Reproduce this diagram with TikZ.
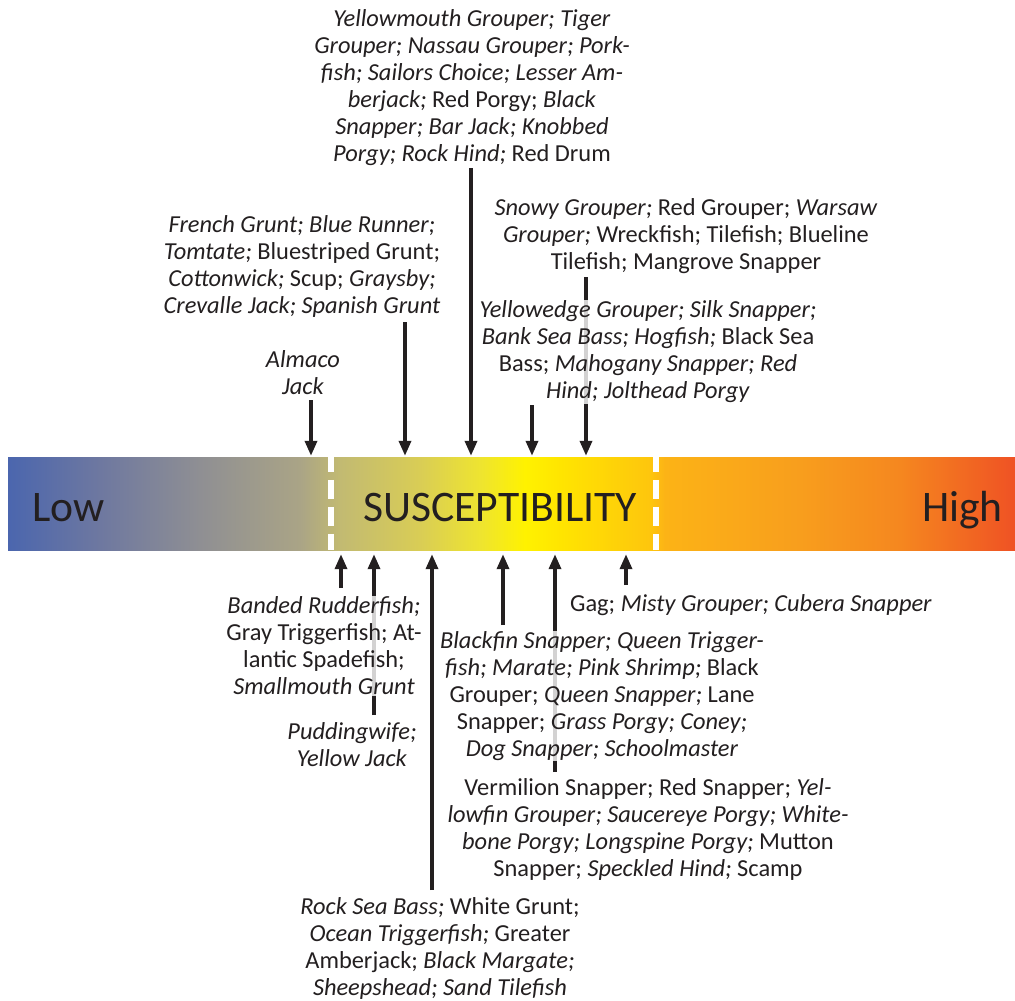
\documentclass[tikz,border=0pt]{standalone}
\usepackage{fontspec}
\setmainfont{Carlito}
\usetikzlibrary{arrows.meta}
\definecolor{ink}{HTML}{231F20}
\definecolor{sA}{HTML}{4B66AE}
\definecolor{sB}{HTML}{6E78A0}
\definecolor{sC}{HTML}{8F8F93}
\definecolor{sD}{HTML}{AAA486}
\definecolor{sE}{HTML}{C2BA72}
\definecolor{sF}{HTML}{D9CD55}
\definecolor{sG}{HTML}{EEE430}
\definecolor{sH}{HTML}{FFF200}
\definecolor{sI}{HTML}{FFE500}
\definecolor{sJ}{HTML}{FEC60D}
\definecolor{sK}{HTML}{FCB316}
\definecolor{sL}{HTML}{F89E1D}
\definecolor{sM}{HTML}{F5871F}
\definecolor{sN}{HTML}{EF5224}
\pgfdeclarehorizontalshading{susc}{100bp}{color(0bp)=(sA); color(25bp)=(sA);
  color(29.57bp)=(sB); color(34.53bp)=(sC); color(39.5bp)=(sD);
  color(41.48bp)=(sE); color(45.46bp)=(sF); color(48.44bp)=(sG);
  color(50.67bp)=(sH); color(52.41bp)=(sI); color(56.88bp)=(sJ);
  color(57.62bp)=(sK); color(64.32bp)=(sL); color(69.29bp)=(sM);
  color(75bp)=(sN); color(100bp)=(sN)}

\begin{document}
\begin{tikzpicture}[x=1pt,y=-1pt,
    lbl/.style={font=\fontsize{24.4}{27}\selectfont,align=center,text=ink,
      fill=white,fill opacity=.8,text opacity=1,inner sep=0.5pt},
    big/.style={font=\fontsize{43.6}{52}\selectfont,text=ink,inner sep=0pt},
    arr/.style={-{Triangle[length=15pt,width=12pt]},line width=3.5pt,ink},
    cut/.style={draw=white,line width=6pt,dash pattern=on 19pt off 8pt,dash phase=4pt}]
  \useasboundingbox (0,0) rectangle (1015,1001);
  % the scale
  \node[shade,shading=susc,minimum width=1007pt,minimum height=93pt,inner sep=0pt] (bar) at (511.5,503.5) {};
  \coordinate (d1) at (331,0);
  \coordinate (d2) at (656,0);
  \draw[cut] (bar.north -| d1) -- (bar.south -| d1);
  \draw[cut] (bar.north -| d2) -- (bar.south -| d2);
  \node[big,anchor=base west] (low) at (32,521) {Low};
  \node[big,anchor=base] (susc) at (500,521) {SUSCEPTIBILITY};
  \node[big,anchor=base east] (high) at (1003,521) {High};
  % arrow tails
  \coordinate (t1) at (311,400);
  \coordinate (t2) at (405,322);
  \coordinate (t3) at (471,168);
  \coordinate (t4) at (532,405);
  \coordinate (t5) at (586,277);
  \coordinate (b1) at (341,588);
  \coordinate (b2) at (374,715);
  \coordinate (b3) at (432,890);
  \coordinate (b4) at (503,625);
  \coordinate (b5) at (555,772);
  \coordinate (b6) at (626,585);
  \path[arr,shorten >=1pt]
    (t1) edge (t1 |- bar.north)
    (t2) edge (t2 |- bar.north)
    (t3) edge (t3 |- bar.north)
    (t4) edge (t4 |- bar.north)
    (t5) edge (t5 |- bar.north);
  \path[arr,shorten >=4pt]
    (b1) edge (b1 |- bar.south)
    (b2) edge (b2 |- bar.south)
    (b3) edge (b3 |- bar.south)
    (b4) edge (b4 |- bar.south)
    (b5) edge (b5 |- bar.south)
    (b6) edge (b6 |- bar.south);
  % species above
  \node[lbl] (ymouth) at (472,88) {\textit{Yellowmouth Grouper; Tiger}\\
    \textit{Grouper; Nassau Grouper; Pork-}\\
    \textit{fish; Sailors Choice; Lesser Am-}\\
    \textit{berjack;} Red Porgy; \textit{Black}\\
    \textit{Snapper; Bar Jack; Knobbed}\\
    \textit{Porgy; Rock Hind;} Red Drum};
  \node[lbl] (french) at (302,266) {\textit{French Grunt; Blue Runner;}\\
    \textit{Tomtate;} Bluestriped Grunt;\\
    \textit{Cottonwick;} Scup; \textit{Graysby;}\\
    \textit{Crevalle Jack; Spanish Grunt}};
  \node[lbl] (almaco) at (303,373) {\textit{Almaco}\\ \textit{Jack}};
  \node[lbl] (snowy) at (686,236) {\textit{Snowy Grouper;} Red Grouper; \textit{Warsaw}\\
    \textit{Grouper;} Wreckfish; Tilefish; Blueline\\
    Tilefish; Mangrove Snapper};
  \node[lbl] (yedge) at (648,352) {\textit{Yellowedge Grouper; Silk Snapper;}\\
    \textit{Bank Sea Bass; Hogfish;} Black Sea\\
    Bass; \textit{Mahogany Snapper; Red}\\
    \textit{Hind; Jolthead Porgy}};
  % species below
  \node[lbl] (banded) at (324,646) {\textit{Banded Rudderfish;}\\
    Gray Triggerfish; At-\\
    lantic Spadefish;\\
    \textit{Smallmouth Grunt}};
  \node[lbl] (pudding) at (352,745) {\textit{Puddingwife;}\\ \textit{Yellow Jack}};
  \node[lbl] (gag) at (751,605) {Gag; \textit{Misty Grouper; Cubera Snapper}};
  \node[lbl] (blackfin) at (602,696) {\textit{Blackfin Snapper; Queen Trigger-}\\
    \textit{fish; Marate; Pink Shrimp;} Black\\
    Grouper; \textit{Queen Snapper;} Lane\\
    Snapper; \textit{Grass Porgy; Coney;}\\
    \textit{Dog Snapper; Schoolmaster}};
  \node[lbl] (vermil) at (648,829) {Vermilion Snapper; Red Snapper; \textit{Yel-}\\
    \textit{lowfin Grouper; Saucereye Porgy; White-}\\
    \textit{bone Porgy; Longspine Porgy;} Mutton\\
    Snapper; \textit{Speckled Hind;} Scamp};
  \node[lbl] (rock) at (440,948) {\textit{Rock Sea Bass;} White Grunt;\\
    \textit{Ocean Triggerfish;} Greater\\
    Amberjack; \textit{Black Margate;}\\
    \textit{Sheepshead; Sand Tilefish}};
\end{tikzpicture}
\end{document}
